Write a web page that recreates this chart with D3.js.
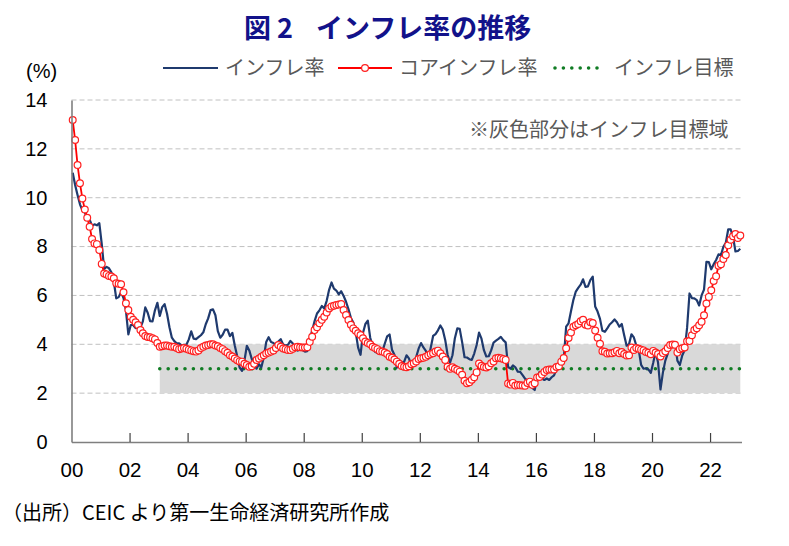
<!DOCTYPE html>
<html><head><meta charset="utf-8">
<script src="https://cdn.jsdelivr.net/npm/d3@7"></script>
<style>
html,body{margin:0;padding:0;background:#fff;}
svg{display:block;}
</style></head>
<body>
<svg id="chart" width="789" height="546"></svg>
<script>
// ---- Data (monthly, Jan 2000 - Jan 2023) ----
const startYear = 2000;
const headline = [
 11.02,10.52,10.11,9.73,9.48,9.41,9.12,9.10,8.85,8.91,8.87,8.96,
 8.11,7.09,7.17,7.11,6.95,6.57,5.88,5.93,6.14,5.89,5.39,4.40,
 4.79,4.79,4.66,4.70,4.68,4.94,5.51,5.29,4.95,4.94,5.39,5.70,
 5.16,5.52,5.64,5.25,4.70,4.27,4.13,4.04,4.04,3.96,3.98,3.98,
 4.20,4.53,4.23,4.21,4.29,4.37,4.49,4.82,5.06,5.40,5.43,5.19,
 4.54,4.27,4.39,4.60,4.60,4.33,4.47,3.95,3.51,3.05,2.91,3.33,
 3.94,3.75,3.41,3.20,3.00,3.18,3.06,3.47,4.09,4.29,4.09,4.05,
 3.98,4.11,4.21,3.99,3.95,3.98,4.14,4.03,3.79,3.74,3.93,3.76,
 3.70,3.72,4.25,4.55,4.95,5.26,5.39,5.57,5.47,5.78,6.23,6.53,
 6.28,6.20,6.04,6.17,5.98,5.74,5.44,5.08,4.89,4.50,3.86,3.57,
 4.46,4.83,4.97,4.27,3.92,3.69,3.64,3.68,3.70,4.02,4.32,4.40,
 3.78,3.57,3.04,3.36,3.25,3.28,3.55,3.42,3.14,3.20,3.48,3.82,
 4.05,3.87,3.73,3.41,3.85,4.34,4.42,4.57,4.77,4.60,4.18,3.57,
 3.25,3.55,4.25,4.65,4.63,4.09,3.47,3.46,3.39,3.36,3.62,3.97,
 4.48,4.23,3.76,3.50,3.51,3.75,4.07,4.15,4.22,4.30,4.17,4.08,
 3.07,3.00,3.14,3.06,2.88,2.87,2.74,2.59,2.52,2.48,2.21,2.13,
 2.61,2.87,2.60,2.54,2.60,2.54,2.65,2.73,2.97,3.06,3.31,3.36,
 4.72,4.86,5.35,5.82,6.16,6.31,6.44,6.66,6.35,6.37,6.63,6.77,
 5.55,5.34,5.04,4.55,4.51,4.65,4.81,4.90,5.02,4.90,4.72,4.83,
 4.37,3.94,4.00,4.41,4.28,3.95,3.78,3.16,3.00,3.02,2.97,2.83,
 3.24,3.70,3.25,2.15,2.84,3.33,3.62,4.05,4.01,4.09,3.33,3.15,
 3.54,3.76,4.67,6.08,5.89,5.88,5.81,5.59,6.00,6.24,7.37,7.36,
 7.07,7.28,7.45,7.68,7.65,7.99,8.15,8.70,8.70,8.41,7.80,7.82,
 7.91
];
const core = [
 13.18,12.36,11.34,10.59,9.97,9.52,9.18,8.81,8.31,8.13,8.10,7.86,
 7.29,6.90,6.86,6.80,6.77,6.70,6.50,6.48,6.46,6.13,5.68,5.40,
 5.13,5.00,4.90,4.79,4.58,4.45,4.34,4.30,4.29,4.25,4.20,4.05,
 3.90,3.92,3.95,3.95,3.92,3.90,3.90,3.85,3.80,3.83,3.85,3.82,
 3.78,3.75,3.72,3.70,3.75,3.85,3.90,3.95,3.97,4.00,4.00,3.95,
 3.92,3.85,3.80,3.72,3.65,3.55,3.50,3.42,3.35,3.30,3.29,3.20,
 3.15,3.08,3.10,3.20,3.36,3.42,3.49,3.55,3.62,3.66,3.70,3.75,
 3.85,3.97,3.90,3.83,3.80,3.77,3.77,3.82,3.88,3.90,3.88,3.87,
 3.87,3.88,4.10,4.31,4.58,4.70,4.86,5.00,5.13,5.30,5.47,5.55,
 5.58,5.61,5.63,5.65,5.40,5.20,4.99,4.80,4.65,4.55,4.45,4.38,
 4.25,4.11,4.05,4.00,3.90,3.85,3.80,3.72,3.70,3.66,3.60,3.49,
 3.45,3.38,3.29,3.20,3.11,3.08,3.06,3.10,3.18,3.22,3.30,3.40,
 3.43,3.45,3.49,3.55,3.60,3.63,3.70,3.74,3.63,3.50,3.36,3.08,
 3.00,3.06,3.00,2.95,2.88,2.75,2.51,2.40,2.45,2.55,2.65,2.85,
 3.21,3.12,3.07,3.05,3.10,3.22,3.30,3.43,3.45,3.43,3.40,3.36,
 2.39,2.35,2.42,2.31,2.33,2.32,2.31,2.30,2.42,2.47,2.34,2.41,
 2.64,2.66,2.76,2.87,2.95,2.97,2.97,2.97,3.07,3.10,3.29,3.44,
 3.84,4.26,4.48,4.72,4.78,4.83,4.94,5.00,4.80,4.77,4.90,4.87,
 4.56,4.27,4.02,3.71,3.69,3.62,3.63,3.63,3.67,3.73,3.63,3.68,
 3.60,3.54,3.55,3.87,3.77,3.85,3.82,3.78,3.75,3.68,3.65,3.59,
 3.73,3.66,3.60,3.50,3.64,3.71,3.85,3.97,3.99,3.98,3.66,3.80,
 3.84,3.87,4.12,4.13,4.37,4.58,4.66,4.78,4.92,5.19,5.67,5.94,
 6.21,6.59,6.78,7.22,7.28,7.49,7.65,8.05,8.28,8.42,8.51,8.35,
 8.45
];
const targetValue = 3;          // inflation target (%)
const targetBand = [2, 4];      // target range (%)
const targetStartIndex = 36;    // Jan 2003
const xTickLabels = ["00","02","04","06","08","10","12","14","16","18","20","22"];
const yTicks = [0,2,4,6,8,10,12,14];
const seriesNames = ["インフレ率","コアインフレ率","インフレ目標"];

// ---- Layout ----
const svg = d3.select("#chart");
const nMonths = headline.length; // 277
const x = d3.scaleLinear().domain([0, nMonths]).range([71.5, 741.5]);
const y = d3.scaleLinear().domain([0, 14]).range([442, 100]);
const cx = i => x(i + 0.5);

const numFont = "'Liberation Sans Narrow','Liberation Sans',sans-serif";
const jpFont = "'Noto Sans CJK JP','Noto Sans CJK SC',sans-serif";

// gridlines
svg.append("g").selectAll("line").data(yTicks.filter(v => v > 0)).join("line")
  .attr("x1", x(0)).attr("x2", x(nMonths))
  .attr("y1", d => y(d)).attr("y2", d => y(d))
  .attr("stroke", "#c0c0c0").attr("stroke-width", 1).attr("stroke-dasharray", "5,3");

// target band
svg.append("rect")
  .attr("x", cx(targetStartIndex)).attr("width", cx(nMonths - 1) - cx(targetStartIndex))
  .attr("y", y(targetBand[1])).attr("height", y(targetBand[0]) - y(targetBand[1]))
  .attr("fill", "#d9d9d9");

// target line (dotted)
const targetData = d3.range(targetStartIndex, nMonths).map(i => ({i, v: targetValue}));
svg.append("path").datum(targetData)
  .attr("d", d3.line().x(d => cx(d.i)).y(d => y(d.v)))
  .attr("fill", "none").attr("stroke", "#107c24").attr("stroke-width", 3.6)
  .attr("stroke-linecap", "round").attr("stroke-dasharray", "0,8.4");

// headline line
svg.append("path").datum(headline)
  .attr("d", d3.line().x((d, i) => cx(i)).y(d => y(d)))
  .attr("fill", "none").attr("stroke", "#1f3a6e").attr("stroke-width", 2.2)
  .attr("stroke-linejoin", "round");

// core line + markers
svg.append("path").datum(core)
  .attr("d", d3.line().x((d, i) => cx(i)).y(d => y(d)))
  .attr("fill", "none").attr("stroke", "#ff0000").attr("stroke-width", 1.8);
svg.append("g").selectAll("circle").data(core).join("circle")
  .attr("cx", (d, i) => cx(i)).attr("cy", d => y(d)).attr("r", 3.4)
  .attr("fill", "#fff").attr("stroke", "#ff2020").attr("stroke-width", 1.2);

// axes
const yAxis = svg.append("g").attr("transform", `translate(${x(0)},0)`)
  .call(d3.axisLeft(y).tickValues(yTicks).tickSize(0).tickPadding(24).tickFormat(d3.format("d")));
yAxis.select(".domain").attr("stroke", "#7f7f7f").attr("stroke-width", 1.6);
yAxis.selectAll("text").attr("font-family", numFont).attr("font-size", 20).attr("fill", "#000");

const xTickIdx = xTickLabels.map((_, k) => k * 24);
const xAxis = svg.append("g").attr("transform", `translate(0,${y(0)})`)
  .call(d3.axisBottom(x).tickValues(xTickIdx).tickSizeInner(-9).tickSizeOuter(0).tickPadding(20)
    .tickFormat((d, k) => xTickLabels[k]));
xAxis.select(".domain").attr("stroke", "#7f7f7f").attr("stroke-width", 1.6);
xAxis.selectAll(".tick line").attr("stroke", "#404040").attr("stroke-width", 1.2)
  .filter(d => d === 0).remove();
xAxis.selectAll("text").attr("font-family", numFont).attr("font-size", 20.5).attr("fill", "#000");

// title
const title = svg.append("text").attr("y", 38).attr("fill", "#12128a")
  .attr("font-family", jpFont).attr("font-weight", 700).attr("font-size", 27);
title.append("tspan").attr("x", 244).text("図");
title.append("tspan").attr("x", 277).text("2");
title.append("tspan").attr("x", 316).text("インフレ率の推移");

// unit
svg.append("text").attr("x", 26).attr("y", 78).text("(%)")
  .attr("font-family", numFont).attr("font-size", 20).attr("fill", "#000");

// legend
const lg = svg.append("g");
const ly = 68;
lg.append("line").attr("x1", 163).attr("x2", 218).attr("y1", ly).attr("y2", ly)
  .attr("stroke", "#1f3a6e").attr("stroke-width", 2.2);
lg.append("text").attr("x", 225).attr("y", ly + 7).text(seriesNames[0]);
lg.append("line").attr("x1", 338).attr("x2", 392).attr("y1", ly).attr("y2", ly)
  .attr("stroke", "#ff0000").attr("stroke-width", 1.8);
lg.append("circle").attr("cx", 365).attr("cy", ly).attr("r", 3.4)
  .attr("fill", "#fff").attr("stroke", "#ff2020").attr("stroke-width", 1.2);
lg.append("text").attr("x", 399).attr("y", ly + 7).text(seriesNames[1]);
lg.append("line").attr("x1", 555).attr("x2", 605).attr("y1", ly).attr("y2", ly)
  .attr("stroke", "#107c24").attr("stroke-width", 3.6).attr("stroke-linecap", "round")
  .attr("stroke-dasharray", "0,8.4");
lg.append("text").attr("x", 614).attr("y", ly + 7).text(seriesNames[2]);
lg.selectAll("text").attr("font-family", jpFont).attr("font-size", 20).attr("fill", "#595959");

// note
svg.append("text").attr("x", 469).attr("y", 137).text("※灰色部分はインフレ目標域")
  .attr("font-family", jpFont).attr("font-size", 20).attr("fill", "#595959");

// source
svg.append("text").attr("x", 2).attr("y", 520).text("（出所）CEIC より第一生命経済研究所作成")
  .attr("font-family", jpFont).attr("font-size", 20).attr("fill", "#000");
</script>
</body></html>
